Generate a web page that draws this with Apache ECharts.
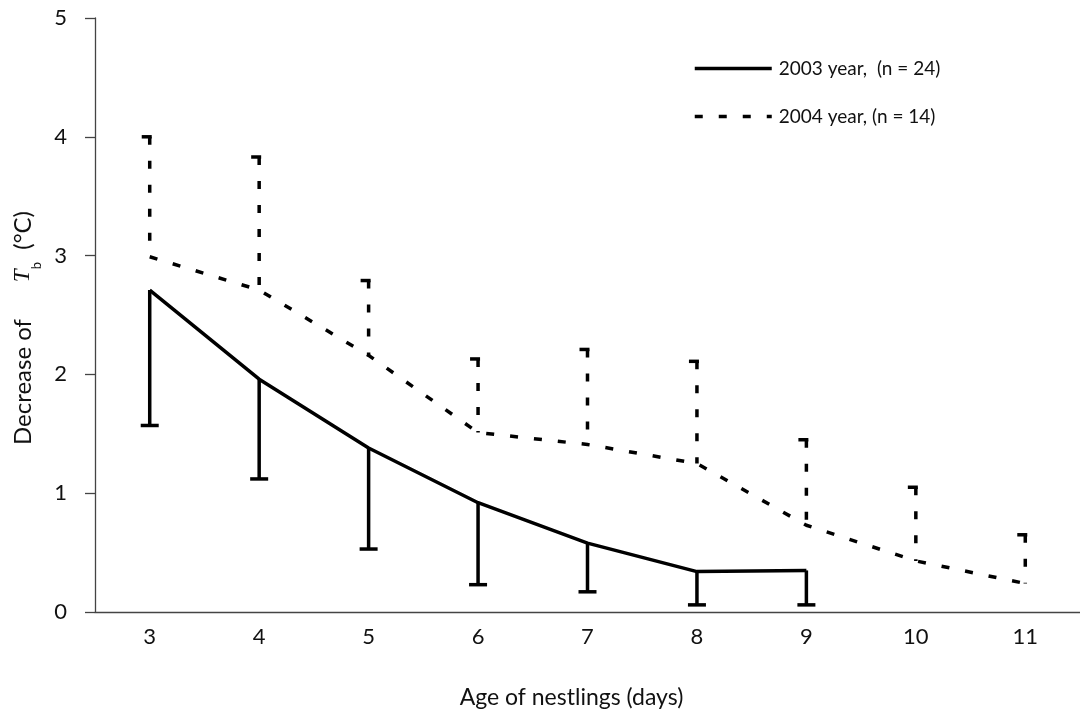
<!DOCTYPE html>
<html>
<head>
<meta charset="utf-8">
<script src="https://cdn.jsdelivr.net/npm/echarts@6/dist/echarts.min.js"></script>
<style>
html,body{margin:0;padding:0;background:#fff;}
#chart{width:1080px;height:714px;}
</style>
</head>
<body>
<div id="chart"></div>
<script>
var categories = ['3','4','5','6','7','8','9','10','11'];
var mean2003 = [2.71, 1.96, 1.38, 0.92, 0.58, 0.34, 0.35, null, null];
var lower2003 = [1.57, 1.12, 0.53, 0.23, 0.17, 0.06, 0.06, null, null];
var mean2004 = [2.99, 2.71, 2.16, 1.51, 1.41, 1.25, 0.73, 0.43, 0.24];
var upper2004 = [4.00, 3.83, 2.79, 2.13, 2.21, 2.11, 1.45, 1.05, 0.65];
var yTicks = [0, 1, 2, 3, 4, 5];
var name2003 = '2003 year,  (n = 24)';
var name2004 = '2004 year, (n = 14)';

var FONT = 'Lato';
var DASH = [8, 16];

var err2003 = [], err2004 = [];
categories.forEach(function (c, i) {
  if (mean2003[i] != null) err2003.push([i, mean2003[i], lower2003[i]]);
  if (mean2004[i] != null) err2004.push([i, upper2004[i], mean2004[i]]);
});

function makeErr(dashed, capL, capR) {
  return function (params, api) {
    var top = api.coord([api.value(0), api.value(1)]);
    var bot = api.coord([api.value(0), api.value(2)]);
    var capY = dashed ? top[1] : bot[1];
    return {
      type: 'group',
      children: [
        {
          type: 'line',
          shape: { x1: top[0], y1: top[1], x2: bot[0], y2: bot[1] },
          style: { stroke: '#000', lineWidth: 3.5, lineDash: dashed ? DASH : null }
        },
        {
          type: 'line',
          shape: { x1: top[0] - capL, y1: capY, x2: top[0] + capR, y2: capY },
          style: { stroke: '#000', lineWidth: 3.5 }
        }
      ]
    };
  };
}

var chart = echarts.init(document.getElementById('chart'));
chart.setOption({
  animation: false,
  backgroundColor: '#fff',
  textStyle: { fontFamily: FONT },
  grid: { left: 95, right: -7, top: 18, bottom: 101, containLabel: false },
  legend: {
    left: 688, top: 54, orient: 'vertical',
    itemWidth: 77, itemHeight: 14, itemGap: 29,
    data: [name2003, name2004],
    itemStyle: { opacity: 0 },
    lineStyle: { width: 3.5 },
    textStyle: { fontFamily: FONT, fontSize: 19, color: '#111', padding: [0, 0, 0, 2] }
  },
  xAxis: {
    type: 'category',
    data: categories,
    boundaryGap: true,
    name: 'Age of nestlings (days)',
    nameLocation: 'middle',
    nameGap: 74,
    nameTextStyle: { fontFamily: FONT, fontSize: 23, color: '#111', padding: [0, 32, 0, 0] },
    axisLine: { lineStyle: { color: '#444', width: 1.3 } },
    axisTick: { length: 10, lineStyle: { color: '#444', width: 1.3 } },
    axisLabel: { fontFamily: FONT, fontSize: 22, color: '#111', margin: 14 },
    splitLine: { show: false }
  },
  yAxis: {
    type: 'value',
    min: 0, max: 5, interval: 1,
    name: 'Decrease of      {i|T}{s|b}  (°C)',
    nameLocation: 'middle',
    nameGap: 57,
    nameTextStyle: {
      fontFamily: FONT, fontSize: 24, color: '#111',
      padding: [0, 26, 0, 0],
      rich: {
        i: { fontFamily: 'Liberation Serif', fontStyle: 'italic', fontSize: 23, color: '#111' },
        s: { fontFamily: FONT, fontSize: 13, color: '#111', verticalAlign: 'bottom', padding: [0, 0, -8, 0] }
      }
    },
    axisLine: { show: true, lineStyle: { color: '#444', width: 1.3 } },
    axisTick: { show: true, length: 10, lineStyle: { color: '#444', width: 1.3 } },
    axisLabel: {
      fontFamily: FONT, fontSize: 22, color: '#111', margin: 28,
      formatter: function (v) { return yTicks.indexOf(v) >= 0 ? String(v) : ''; }
    },
    splitLine: { show: false }
  },
  series: [
    {
      name: name2003, type: 'line', data: mean2003, symbol: 'none',
      lineStyle: { color: '#000', width: 3.5 }, itemStyle: { color: '#000' }
    },
    {
      name: name2004, type: 'line', data: mean2004, symbol: 'none',
      lineStyle: { color: '#000', width: 3.5, type: DASH }, itemStyle: { color: '#000' }
    },
    {
      type: 'custom', data: err2003, renderItem: makeErr(false, 9, 9),
      encode: { x: 0, y: [1, 2] }, z: 3
    },
    {
      type: 'custom', data: err2004, renderItem: makeErr(true, 8, 2),
      encode: { x: 0, y: [1, 2] }, z: 3
    }
  ]
});
</script>
</body>
</html>
